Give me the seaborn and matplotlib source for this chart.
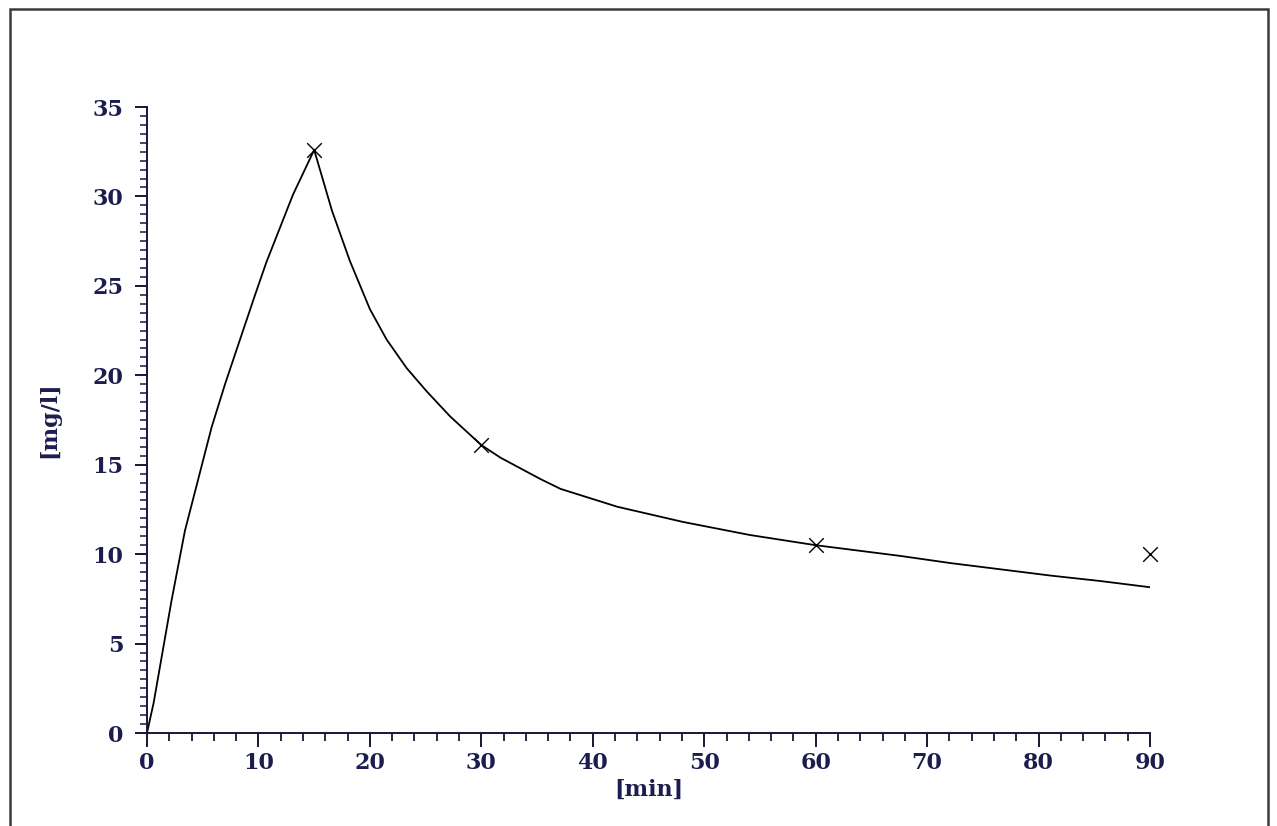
import matplotlib
matplotlib.use("Agg")
import matplotlib.pyplot as plt
import seaborn as sns
import pandas as pd
from matplotlib.patches import Rectangle
from matplotlib.ticker import MultipleLocator

# Fitted curve
curve_min = [0, 0.6, 2.2, 3.4, 5.8, 7.0, 8.4, 9.7, 10.7, 11.9, 13.1, 15,
             16.6, 18.2, 20.0, 21.5, 23.3, 25.1, 27.2, 30, 31.7, 35.3, 37.1,
             42.2, 48.1, 54.1, 60, 67.6, 72.1, 76.6, 81.1, 85.5, 90]
curve_mg = [0, 1.7, 7.4, 11.3, 17.1, 19.5, 22.1, 24.5, 26.3, 28.2, 30.1, 32.6,
            29.2, 26.4, 23.7, 22.0, 20.4, 19.1, 17.7, 16.1, 15.4, 14.2, 13.65,
            12.65, 11.8, 11.07, 10.5, 9.9, 9.5, 9.15, 8.8, 8.5, 8.15]

# Measured points
meas_min = [15, 30, 60, 90]
meas_mg = [32.6, 16.1, 10.5, 10.0]

x_ticks = [0, 10, 20, 30, 40, 50, 60, 70, 80, 90]
y_ticks = [0, 5, 10, 15, 20, 25, 30, 35]

sns.set_style("ticks")
plt.rcParams['font.family'] = ['DejaVu Serif', 'Liberation Serif']

navy = "#1c1c4e"
dark = "#16163a"
fs = 16

fig = plt.figure(figsize=(12.77, 8.26), dpi=100)
fig.patch.set_facecolor("white")
ax = fig.add_axes([147/1277, 1-733/826, (1150-147)/1277, (733-107)/826])

curve_df = pd.DataFrame({"min": curve_min, "mg": curve_mg})
meas_df = pd.DataFrame({"min": meas_min, "mg": meas_mg})

sns.lineplot(data=curve_df, x="min", y="mg", ax=ax, color="black",
             linewidth=1.3, sort=False, estimator=None)
sns.scatterplot(data=meas_df, x="min", y="mg", ax=ax, marker="x", s=110,
                color="black", linewidth=1.0, clip_on=False, zorder=5)

ax.set_xlim(0, 90)
ax.set_ylim(0, 35)
ax.set_xticks(x_ticks)
ax.set_yticks(y_ticks)
ax.set_xticklabels([str(v) for v in x_ticks])
ax.set_yticklabels([str(v) for v in y_ticks])
ax.xaxis.set_minor_locator(MultipleLocator(2))
ax.yaxis.set_minor_locator(MultipleLocator(0.5))

for s in ["top", "right"]:
    ax.spines[s].set_visible(False)
for s in ["left", "bottom"]:
    ax.spines[s].set_color(dark)
    ax.spines[s].set_linewidth(1.4)

ax.tick_params(axis="both", which="major", direction="out", color=dark,
               width=1.4, labelcolor=navy, labelsize=fs)
ax.tick_params(axis="x", which="major", length=10, pad=4)
ax.tick_params(axis="y", which="major", length=9, pad=8)
ax.tick_params(axis="x", which="minor", direction="out", length=5.5,
               width=1.3, color=dark)
ax.tick_params(axis="y", which="minor", direction="out", length=5,
               width=1.1, color=dark)
for lab in ax.get_xticklabels() + ax.get_yticklabels():
    lab.set_fontweight("bold")

ax.set_xlabel("[min]", fontsize=fs, fontweight="bold", color=navy, labelpad=3)
ax.set_ylabel("[mg/l]", fontsize=fs, fontweight="bold", color=navy, labelpad=23)
ax.set_facecolor("white")

# Outer frame
frame = Rectangle((10/1277, -0.05), 1258/1277, (1-9/826) + 0.05,
                  transform=fig.transFigure, fill=False, edgecolor="#3a3a3a",
                  linewidth=1.8, zorder=10)
fig.patches.append(frame)

fig.savefig("out.png", dpi=100)
